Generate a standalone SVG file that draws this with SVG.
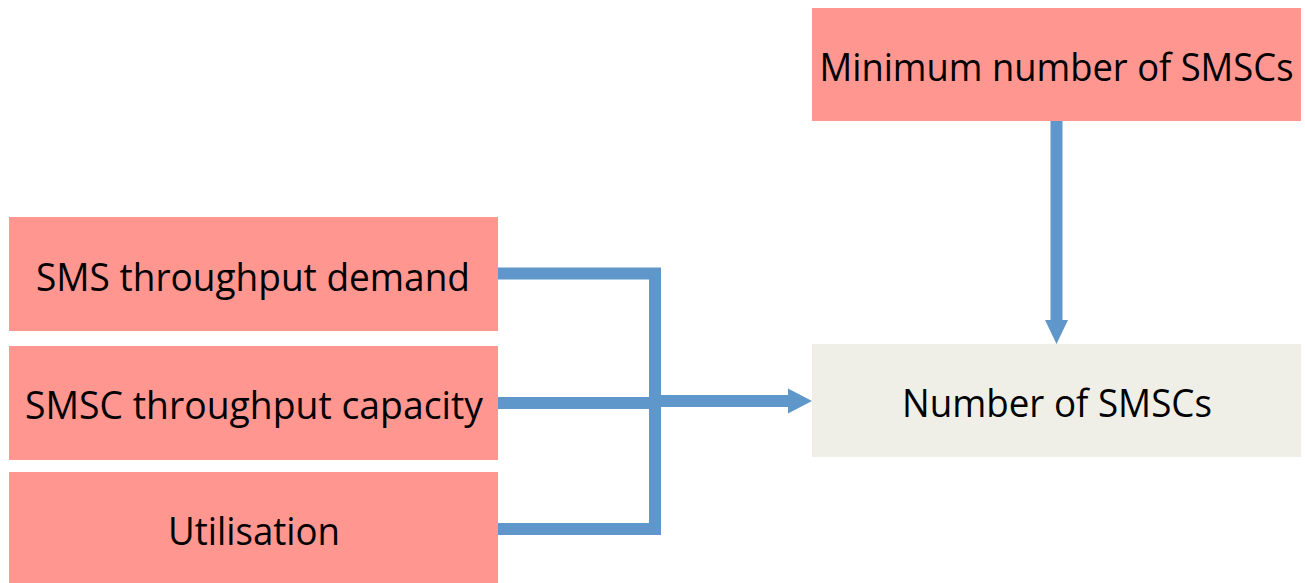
<svg xmlns="http://www.w3.org/2000/svg" width="1305" height="583" viewBox="0 0 1305 583">
<style>
.in{fill:#FF9690}
.out{fill:#EFEFE7}
text{font-family:"Open Sans","Liberation Sans",sans-serif;font-size:39px;fill:#000;text-anchor:middle}
.ln{stroke:#6097CA;stroke-width:12;fill:none}
.ah{fill:#6097CA}
</style>
<rect width="1305" height="583" fill="#fff"/>
<g id="n-demand"><rect class="in" x="9" y="217" width="489" height="114"/><text x="253" y="291" textLength="434" lengthAdjust="spacingAndGlyphs">SMS throughput demand</text></g>
<g id="n-capacity"><rect class="in" x="9" y="346" width="489" height="114"/><text x="254" y="419" textLength="458" lengthAdjust="spacingAndGlyphs">SMSC throughput capacity</text></g>
<g id="n-util"><rect class="in" x="9" y="472" width="489" height="111"/><text x="254" y="545" textLength="172" lengthAdjust="spacingAndGlyphs">Utilisation</text></g>
<g id="n-min"><rect class="in" x="812" y="8" width="489" height="113"/><text x="1056.5" y="81" textLength="474" lengthAdjust="spacingAndGlyphs">Minimum number of SMSCs</text></g>
<g id="n-num"><rect class="out" x="812" y="344" width="489" height="113"/><text x="1057" y="417" textLength="310" lengthAdjust="spacingAndGlyphs">Number of SMSCs</text></g>
<g id="connectors">
<polyline class="ln" points="498,273.5 655,273.5 655,529 498,529"/>
<line class="ln" x1="498" y1="403" x2="655" y2="403"/>
<line class="ln" x1="655" y1="401" x2="790" y2="401"/>
<polygon class="ah" points="788,388.5 812,401 788,413.5"/>
<line class="ln" x1="1056.5" y1="121" x2="1056.5" y2="322"/>
<polygon class="ah" points="1045,320 1068,320 1056.5,344"/>
</g>
</svg>
